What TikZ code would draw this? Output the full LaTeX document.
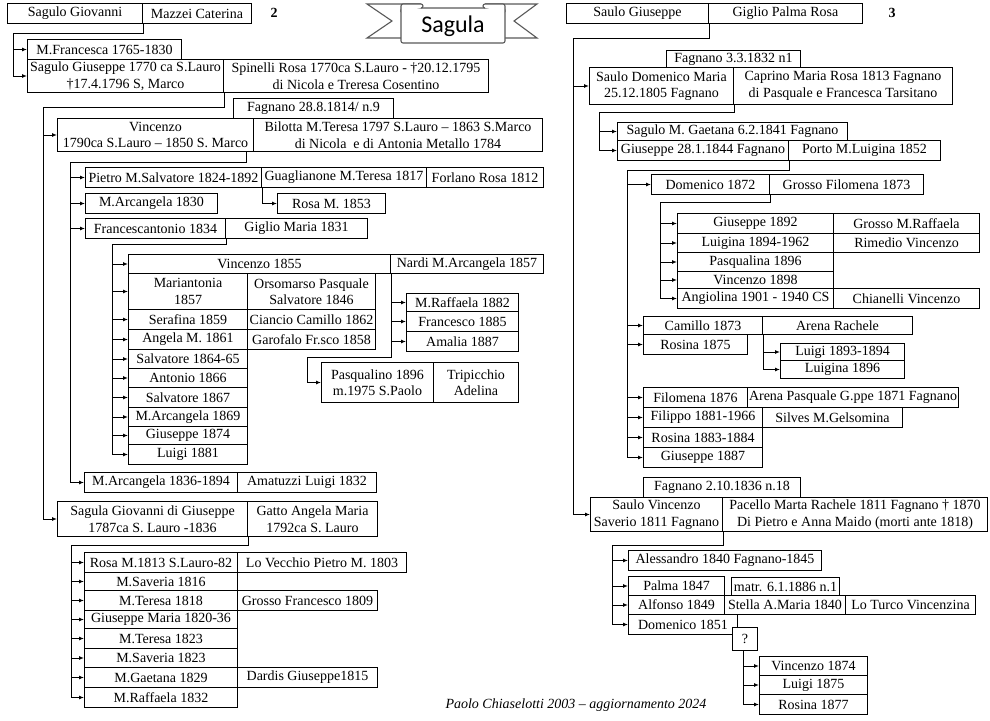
\documentclass[tikz,border=0pt]{standalone}
\usepackage{fontspec}
\setmainfont{Liberation Serif}
\newfontfamily\bannerfont{Carlito}
\usepackage{xcolor}
\usepackage{tikz}
\usetikzlibrary{arrows.meta,calc}
\definecolor{bangray}{HTML}{595959}

\begin{document}
\begin{tikzpicture}[x=1pt, y=-1pt, line width=1pt,
	box/.style={draw, fill=white, inner sep=0pt, anchor=north west, align=center, font=\fontsize{14}{16.5}\selectfont},
	sz/.style 2 args={minimum width=#1, minimum height=#2},
	arr/.style={-{Latex[length=5pt,width=4pt]}},
	ribbon/.style={draw=bangray, fill=white, line width=1.1pt}]
	\useasboundingbox (0,0) rectangle (990,720);
	% banner
	\draw[ribbon] (421,4) -- (367,4) -- (392,21) -- (367,38) -- (401,38);
	\draw[ribbon] (485,4) -- (537,4) -- (514,21) -- (537,38) -- (505,38);
	\draw[ribbon, rounded corners=2pt] (401,8) rectangle (505,43);
	\draw[ribbon] (401,12) -- (401,6) arc[start angle=180, end angle=270, radius=2] -- (421,4) arc[start angle=270, end angle=450, radius=2];
	\draw[ribbon] (505,12) -- (505,6) arc[start angle=0, end angle=-90, radius=2] -- (485,4) arc[start angle=270, end angle=90, radius=2];
	\node[font=\bannerfont\fontsize{24}{28}\selectfont] (title) at (453,26) {Sagula};
	\node[font=\fontsize{14}{16.5}\selectfont\bfseries] (p2) at (274,13) {2};
	\node[font=\fontsize{14}{16.5}\selectfont\bfseries] (p3) at (892,13) {3};
	\node[font=\fontsize{14}{16.5}\selectfont\itshape] (foot) at (576,705) {Paolo Chiaselotti 2003 -- aggiornamento 2024};

	\node[box, sz={135}{20}] (sgio) at (7,3) {Sagulo Giovanni};
	\node[box, sz={109}{20}] (mazz) at (142,3) {Mazzei Caterina};
	\node[box, sz={154}{20}] (mfra) at (27,39) {M.Francesca 1765-1830};
	\node[box, sz={196}{33}] (sgiu) at (27,59) {Sagulo Giuseppe 1770 ca S.Lauro\\†17.4.1796 S, Marco};
	\node[box, sz={265}{33}] (spin) at (223,59) {Spinelli Rosa 1770ca S.Lauro - †20.12.1795\\di Nicola e Treresa Cosentino};
	\node[box, sz={160}{20}] (fag1) at (233,98) {Fagnano 28.8.1814/ n.9};
	\node[box, sz={196}{33}] (vin) at (57,118) {Vincenzo\\1790ca S.Lauro -- 1850 S. Marco};
	\node[box, sz={289}{33}] (bil) at (253,118) {Bilotta M.Teresa 1797 S.Lauro -- 1863 S.Marco\\di Nicola\ \ e di Antonia Metallo 1784};
	\node[box, sz={176}{20}] (pie) at (85,167) {Pietro M.Salvatore 1824-1892};
	\node[box, sz={165}{20}] (gua) at (261,167) {Guaglianone M.Teresa 1817};
	\node[box, sz={117}{20}] (forl) at (426,167) {Forlano Rosa 1812};
	\node[box, sz={108}{20}] (rosm) at (277,193) {Rosa M. 1853};
	\node[box, sz={132}{20}] (marc30) at (85,193) {M.Arcangela 1830};
	\node[box, sz={140}{20}] (fca) at (85,218) {Francescantonio 1834};
	\node[box, sz={142}{20}] (gmar) at (225,218) {Giglio Maria 1831};
	\node[box, sz={262}{19}] (v55) at (128,254) {Vincenzo 1855};
	\node[box, sz={153}{19}] (nard) at (390,254) {Nardi M.Arcangela 1857};
	\node[box, sz={119}{36}] (mant) at (128,273) {Mariantonia\\1857};
	\node[box, sz={128}{36}] (orso) at (247,273) {Orsomarso Pasquale\\Salvatore 1846};
	\node[box, sz={119}{20}] (ser) at (128,309) {Serafina 1859};
	\node[box, sz={128}{20}] (cian) at (247,309) {Ciancio Camillo 1862};
	\node[box, sz={119}{20}] (ang) at (128,329) {Angela M. 1861};
	\node[box, sz={128}{20}] (garo) at (247,329) {Garofalo Fr.sco 1858};
	\node[box, sz={119}{19}] (sal65) at (128,349) {Salvatore 1864-65};
	\node[box, sz={119}{19}] (ant) at (128,368) {Antonio 1866};
	\node[box, sz={119}{20}] (sal67) at (128,387) {Salvatore 1867};
	\node[box, sz={119}{19}] (marc69) at (128,407) {M.Arcangela 1869};
	\node[box, sz={119}{18}] (giu74) at (128,426) {Giuseppe 1874};
	\node[box, sz={119}{20}] (lui81) at (128,444) {Luigi 1881};
	\node[box, sz={112}{18}] (mraf) at (406,293) {M.Raffaela 1882};
	\node[box, sz={112}{20}] (fra85) at (406,311) {Francesco 1885};
	\node[box, sz={112}{20}] (ama) at (406,331) {Amalia 1887};
	\node[box, sz={112}{40}] (pasq) at (321,362) {Pasqualino 1896\\m.1975 S.Paolo};
	\node[box, sz={85}{40}] (trip) at (433,362) {Tripicchio\\Adelina};
	\node[box, sz={153}{20}] (marc36) at (84,472) {M.Arcangela 1836-1894};
	\node[box, sz={139}{20}] (amat) at (237,472) {Amatuzzi Luigi 1832};
	\node[box, sz={190}{35}] (sgdg) at (57,501) {Sagula Giovanni di Giuseppe\\1787ca S. Lauro -1836};
	\node[box, sz={130}{35}] (gatt) at (247,501) {Gatto Angela Maria\\1792ca S. Lauro};
	\node[box, sz={153}{20}] (ros13) at (84,552) {Rosa M.1813 S.Lauro-82};
	\node[box, sz={169}{20}] (lovec) at (237,552) {Lo Vecchio Pietro M. 1803};
	\node[box, sz={153}{18}] (msav16) at (84,572) {M.Saveria 1816};
	\node[box, sz={153}{20}] (mter18) at (84,590) {M.Teresa 1818};
	\node[box, sz={140}{20}] (gros09) at (237,590) {Grosso Francesco 1809};
	\node[box, sz={153}{18}] (gma) at (84,610) {Giuseppe Maria 1820-36};
	\node[box, sz={153}{20}] (mter23) at (84,628) {M.Teresa 1823};
	\node[box, sz={153}{19}] (msav23) at (84,648) {M.Saveria 1823};
	\node[box, sz={153}{20}] (mgae) at (84,667) {M.Gaetana 1829};
	\node[box, sz={140}{20}] (dard) at (237,667) {Dardis Giuseppe1815};
	\node[box, sz={153}{20}] (mraf32) at (84,687) {M.Raffaela 1832};

	\node[box, sz={142}{20}] (saug) at (566,3) {Saulo Giuseppe};
	\node[box, sz={154}{20}] (gpr) at (708,3) {Giglio Palma Rosa};
	\node[box, sz={134}{17}] (fag2) at (666,50) {Fagnano 3.3.1832 n1};
	\node[box, sz={144}{37}] (sdm) at (589,67) {Saulo Domenico Maria\\25.12.1805 Fagnano};
	\node[box, sz={219}{37}] (capr) at (733,67) {Caprino Maria Rosa 1813 Fagnano\\di Pasquale e Francesca Tarsitano};
	\node[box, sz={230}{18}] (mgae41) at (617,122) {Sagulo M. Gaetana 6.2.1841 Fagnano};
	\node[box, sz={171}{20}] (giu44) at (617,140) {Giuseppe 28.1.1844 Fagnano};
	\node[box, sz={152}{20}] (port) at (788,140) {Porto M.Luigina 1852};
	\node[box, sz={118}{20}] (dom72) at (651,174) {Domenico 1872};
	\node[box, sz={154}{20}] (gfil) at (769,174) {Grosso Filomena 1873};
	\node[box, sz={156}{20}] (giu92) at (677,213) {Giuseppe 1892};
	\node[box, sz={146}{20}] (gmr) at (833,213) {Grosso M.Raffaela};
	\node[box, sz={156}{19}] (lgn62) at (677,233) {Luigina 1894-1962};
	\node[box, sz={146}{19}] (rim) at (833,233) {Rimedio Vincenzo};
	\node[box, sz={156}{19}] (pasq96) at (677,252) {Pasqualina 1896};
	\node[box, sz={156}{17}] (vin98) at (677,271) {Vincenzo 1898};
	\node[box, sz={156}{20}] (angi) at (677,288) {Angiolina 1901 - 1940 CS};
	\node[box, sz={146}{20}] (chia) at (833,288) {Chianelli Vincenzo};
	\node[box, sz={119}{18}] (cam) at (643,316) {Camillo 1873};
	\node[box, sz={150}{18}] (aren) at (762,316) {Arena Rachele};
	\node[box, sz={104}{20}] (ros75) at (643,334) {Rosina 1875};
	\node[box, sz={124}{17}] (lu93) at (780,343) {Luigi 1893-1894};
	\node[box, sz={124}{18}] (lgn96) at (780,360) {Luigina 1896};
	\node[box, sz={104}{20}] (fil76) at (643,387) {Filomena 1876};
	\node[box, sz={211}{20}] (arpa) at (747,387) {Arena Pasquale G.ppe 1871 Fagnano};
	\node[box, sz={119}{20}] (fil81) at (643,407) {Filippo 1881-1966};
	\node[box, sz={140}{20}] (silv) at (762,407) {Silves M.Gelsomina};
	\node[box, sz={119}{20}] (ros83) at (643,427) {Rosina 1883-1884};
	\node[box, sz={119}{20}] (giu87) at (643,447) {Giuseppe 1887};
	\node[box, sz={157}{20}] (fag3) at (643,477) {Fagnano 2.10.1836 n.18};
	\node[box, sz={132}{34}] (sv) at (590,497) {Saulo Vincenzo\\Saverio 1811 Fagnano};
	\node[box, sz={265}{34}] (pac) at (722,497) {Pacello Marta Rachele 1811 Fagnano † 1870\\Di Pietro e Anna Maido (morti ante 1818)};
	\node[box, sz={193}{20}] (ales) at (628,550) {Alessandro 1840 Fagnano-1845};
	\node[box, sz={96}{19}] (palm) at (628,576) {Palma 1847};
	\node[box, sz={108}{18}] (matr) at (731,577) {matr. 6.1.1886 n.1};
	\node[box, sz={96}{19}] (alf) at (628,595) {Alfonso 1849};
	\node[box, sz={121}{19}] (stel) at (724,595) {Stella A.Maria 1840};
	\node[box, sz={130}{19}] (ltv) at (845,595) {Lo Turco Vincenzina};
	\node[box, sz={109}{20}] (dom51) at (628,614) {Domenico 1851};
	\node[box, sz={25}{23}] (qm) at (732,627) {?};
	\node[box, sz={108}{19}] (v74) at (759,656) {Vincenzo 1874};
	\node[box, sz={108}{19}] (lu75) at (759,675) {Luigi 1875};
	\node[box, sz={108}{20}] (ros77) at (759,694) {Rosina 1877};

	\coordinate (k1) at (13,33);
	\draw[arr] (sgio.south east) |- (k1) |- (sgiu.west);
	\draw[arr] (k1 |- mfra.west) -- (mfra.west);
	\coordinate (k2) at (43,107);
	\draw[arr] (sgiu.south east) |- (k2) |- (sgdg.west);
	\draw[arr] (k2 |- vin.west) -- (vin.west);
	\coordinate (k3a) at ([xshift=-8pt]vin.south east);
	\coordinate (k3) at (70,162);
	\draw[arr] (k3a) |- (k3) |- (marc36.west);
	\foreach \c in {pie,marc30,fca}
		\draw[arr] (k3 |- \c.west) -- (\c.west);
	\draw[arr] (pie.south east) |- (rosm.west);
	\coordinate (k4) at (112,244);
	\draw[arr] (fca.south east) |- (k4) |- (lui81.west);
	\foreach \c in {v55,mant,ser,ang,sal65,ant,sal67,marc69,giu74}
		\draw[arr] (k4 |- \c.west) -- (\c.west);
	\coordinate (k5) at (307,357);
	\draw[arr] (v55.south east) |- (k5) |- (pasq.west);
	\foreach \c in {mraf,fra85,ama}
		\draw[arr] (v55.south east |- \c.west) -- (\c.west);
	\coordinate (k6) at (71,545);
	\draw[arr] (sgdg.south east) |- (k6) |- (mraf32.west);
	\foreach \c in {ros13,msav16,mter18,gma,mter23,msav23,mgae}
		\draw[arr] (k6 |- \c.west) -- (\c.west);

	\coordinate (k7) at (573,38);
	\draw[arr] (saug.south east) |- (k7) |- (sv.west);
	\draw[arr] (k7 |- sdm.west) -- (sdm.west);
	\coordinate (k8) at (599,112);
	\draw[arr] (sdm.south east) |- (k8) |- (giu44.west);
	\draw[arr] (k8 |- mgae41.west) -- (mgae41.west);
	\coordinate (k9) at (627,170);
	\draw[arr] (giu44.south east) |- (k9) |- (giu87.west);
	\foreach \c in {dom72,cam,ros75,fil76,fil81,ros83}
		\draw[arr] (k9 |- \c.west) -- (\c.west);
	\coordinate (k10) at (660,202);
	\draw[arr] (dom72.south east) |- (k10) |- (angi.west);
	\foreach \c in {giu92,lgn62,pasq96,vin98}
		\draw[arr] (k10 |- \c.west) -- (\c.west);
	\draw[arr] (cam.south east) |- (lgn96.west);
	\draw[arr] (cam.south east |- lu93.west) -- (lu93.west);
	\coordinate (k11) at (612,545);
	\draw[arr] (sv.south east) |- (k11) |- (dom51.west);
	\foreach \c in {ales,palm,alf}
		\draw[arr] (k11 |- \c.west) -- (\c.west);
	\coordinate (k12) at ([xshift=-2pt]qm.south);
	\draw[arr] (k12) |- (ros77.west);
	\foreach \c in {v74,lu75}
		\draw[arr] (k12 |- \c.west) -- (\c.west);
\end{tikzpicture}
\end{document}
